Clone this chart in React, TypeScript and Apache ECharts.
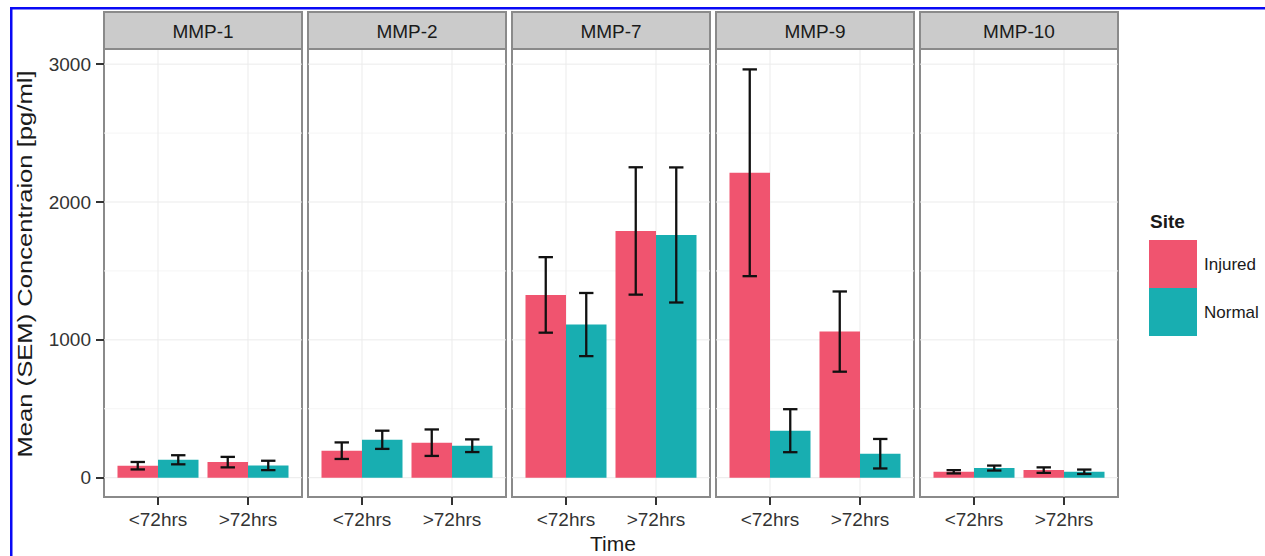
import React, { useEffect, useRef } from "react";
import * as echarts from "echarts";

// ---- data ----
const panels = ["MMP-1", "MMP-2", "MMP-7", "MMP-9", "MMP-10"];
const times = ["<72hrs", ">72hrs"];
const siteNames = ["Injured", "Normal"];
const injuredMean = [[87, 113], [196, 254], [1326, 1790], [2212, 1060], [43, 55]];
const injuredSem = [[27, 38], [60, 96], [274, 462], [750, 291], [12, 20]];
const normalMean = [[130, 89], [275, 232], [1111, 1761], [341, 174], [70, 43]];
const normalSem = [[33, 34], [66, 46], [229, 490], [156, 107], [18, 16]];
const yTicks = [0, 1000, 2000, 3000];
const yMinorGrid = [500, 1500, 2500];

const FONT = "Liberation Sans, Arial, sans-serif";
const COLORS = ["#F0546F", "#18AEB1"];

export default function App() {
  const ref = useRef<HTMLDivElement>(null);
  useEffect(() => {
    document.body.style.margin = "0";
    const chart = echarts.init(ref.current!, null, { renderer: "svg" });

    const panelLeft = (i: number) => 104 + i * 204;
    const panelW = 198;
    const top = 49;
    const height = 448;
    const yMin = -140;
    const yMax = 3110;

    const grids: any[] = [];
    const xAxes: any[] = [];
    const yAxes: any[] = [];
    const series: any[] = [];
    const graphics: any[] = [];

    panels.forEach((name, i) => {
      grids.push({
        left: panelLeft(i),
        top,
        width: panelW,
        height,
        show: true,
        backgroundColor: "#fff",
        borderColor: "#8a8a8a",
        borderWidth: 2,
      });
      xAxes.push({
        type: "value",
        gridIndex: i,
        position: "bottom",
        min: 0.4,
        max: 2.6,
        axisLine: { show: false, onZero: false },
        splitLine: { show: false },
        axisTick: {
          show: true,
          inside: false,
          customValues: [1, 2],
          length: 8,
          lineStyle: { color: "#333", width: 2 },
        },
        axisLabel: {
          customValues: [1, 2],
          formatter: (v: number) => times[Math.round(v) - 1],
          fontFamily: FONT,
          fontSize: 19,
          color: "#333",
          margin: 13,
        },
      });
      yAxes.push({
        type: "value",
        gridIndex: i,
        position: "left",
        min: yMin,
        max: yMax,
        axisLine: { show: false, onZero: false },
        splitLine: { show: false },
        axisTick: {
          show: i === 0,
          inside: false,
          customValues: yTicks,
          length: 8,
          lineStyle: { color: "#333", width: 2 },
        },
        axisLabel: {
          show: i === 0,
          customValues: yTicks,
          formatter: (v: number) => String(v),
          fontFamily: FONT,
          fontSize: 19,
          color: "#333",
          margin: 13,
        },
      });
      // grid lines
      series.push({
        type: "custom",
        name: "grid" + i,
        xAxisIndex: i,
        yAxisIndex: i,
        silent: true,
        z: 1,
        data: [
          ...yMinorGrid.map((v) => [1, v, 0]),
          ...yTicks.map((v) => [1, v, 1]),
          [1, 0, 2],
          [2, 0, 2],
        ],
        renderItem: (params: any, api: any) => {
          const cs = params.coordSys;
          const kind = api.value(2);
          if (kind === 2) {
            const p = api.coord([api.value(0), 0]);
            return {
              type: "line",
              shape: { x1: p[0], y1: cs.y, x2: p[0], y2: cs.y + cs.height },
              style: { stroke: "#EBEBEB", lineWidth: 1 },
            };
          }
          const p = api.coord([1, api.value(1)]);
          return {
            type: "line",
            shape: { x1: cs.x, y1: p[1], x2: cs.x + cs.width, y2: p[1] },
            style: { stroke: kind === 1 ? "#EBEBEB" : "#F5F5F5", lineWidth: 1 },
          };
        },
      });
      const means = [injuredMean[i], normalMean[i]];
      const sems = [injuredSem[i], normalSem[i]];
      siteNames.forEach((site, s) => {
        const offset = s === 0 ? -0.225 : 0.225;
        series.push({
          type: "custom",
          name: site,
          xAxisIndex: i,
          yAxisIndex: i,
          z: 3,
          itemStyle: { color: COLORS[s] },
          encode: { x: 0, y: 1 },
          data: times.map((t, k) => [k + 1, means[s][k], sems[s][k]]),
          renderItem: (params: any, api: any) => {
            const cx = api.value(0) + offset;
            const m = api.value(1);
            const e = api.value(2);
            const a = api.coord([cx - 0.225, m]);
            const b = api.coord([cx + 0.225, 0]);
            const hi = api.coord([cx, m + e]);
            const lo = api.coord([cx, m - e]);
            const cl = api.coord([cx - 0.08, 0])[0];
            const cr = api.coord([cx + 0.08, 0])[0];
            const ls = { stroke: "#111", lineWidth: 2.3 };
            return {
              type: "group",
              children: [
                {
                  type: "rect",
                  shape: { x: a[0], y: a[1], width: b[0] - a[0], height: b[1] - a[1] },
                  style: { fill: COLORS[s] },
                },
                { type: "line", shape: { x1: hi[0], y1: hi[1], x2: lo[0], y2: lo[1] }, style: ls },
                { type: "line", shape: { x1: cl, y1: hi[1], x2: cr, y2: hi[1] }, style: ls },
                { type: "line", shape: { x1: cl, y1: lo[1], x2: cr, y2: lo[1] }, style: ls },
              ],
            };
          },
        });
      });
      // strip
      graphics.push({
        type: "rect",
        shape: { x: panelLeft(i), y: 12, width: panelW, height: 37 },
        style: { fill: "#CBCBCB", stroke: "#8a8a8a", lineWidth: 2 },
        z: 10,
      });
      graphics.push({
        type: "text",
        x: panelLeft(i) + panelW / 2,
        y: 31,
        style: {
          text: name,
          fontFamily: FONT,
          fontSize: 19,
          fill: "#1a1a1a",
          textAlign: "center",
          textVerticalAlign: "middle",
        },
        z: 11,
      });
    });

    // blue frame
    graphics.push({ type: "rect", shape: { x: 10, y: 7, width: 1255, height: 2.5 }, style: { fill: "#0A0AF5" }, z: 20 });
    graphics.push({ type: "rect", shape: { x: 10, y: 7, width: 2.5, height: 549 }, style: { fill: "#0A0AF5" }, z: 20 });

    // axis titles
    graphics.push({
      type: "text",
      x: 25,
      y: 264,
      rotation: Math.PI / 2,
      scaleX: 1.25,
      style: {
        text: "Mean (SEM) Concentraion [pg/ml]",
        fontFamily: FONT,
        fontSize: 20.5,
        fill: "#1a1a1a",
        textAlign: "center",
        textVerticalAlign: "middle",
      },
    });
    graphics.push({
      type: "text",
      x: 613,
      y: 543,
      style: {
        text: "Time",
        fontFamily: FONT,
        fontSize: 21,
        fill: "#1a1a1a",
        textAlign: "center",
        textVerticalAlign: "middle",
      },
    });
    graphics.push({
      type: "text",
      x: 1150,
      y: 221,
      style: {
        text: "Site",
        fontFamily: FONT,
        fontSize: 19,
        fontWeight: "bold",
        fill: "#1a1a1a",
        textAlign: "left",
        textVerticalAlign: "middle",
      },
    });

    chart.setOption({
      animation: false,
      backgroundColor: "#fff",
      grid: grids,
      xAxis: xAxes,
      yAxis: yAxes,
      series,
      graphic: graphics,
      legend: {
        data: siteNames,
        orient: "vertical",
        left: 1149,
        top: 240,
        itemWidth: 48,
        itemHeight: 48,
        itemGap: 0,
        icon: "rect",
        padding: 0,
        selectedMode: false,
        textStyle: { fontFamily: FONT, fontSize: 17, color: "#1a1a1a", padding: [0, 0, 0, 2] },
      },
    });
    return () => chart.dispose();
  }, []);
  return <div ref={ref} style={{ width: 1265, height: 556 }} />;
}
